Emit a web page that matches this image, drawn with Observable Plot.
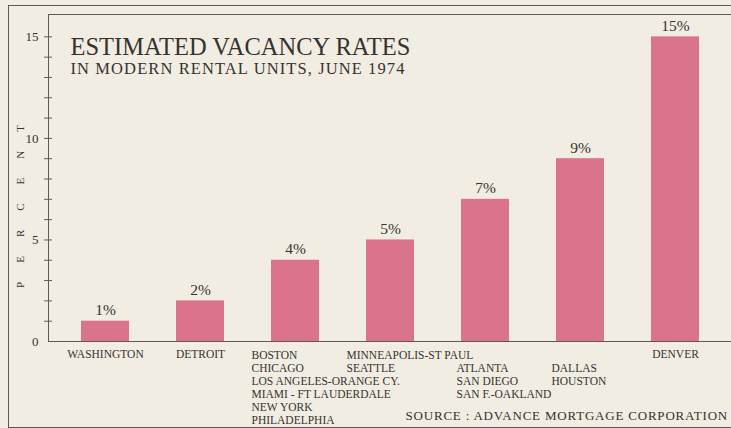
<!DOCTYPE html>
<html>
<head>
<meta charset="utf-8">
<script src="https://cdn.jsdelivr.net/npm/d3@7"></script>
<script src="https://cdn.jsdelivr.net/npm/@observablehq/plot@0.6"></script>
<style>
  html, body { margin: 0; padding: 0; background: #f1ede3; }
  svg { display: block; }
</style>
</head>
<body>
<div id="chart"></div>
<script>
const cities = [
  "WASHINGTON",
  "DETROIT",
  "BOSTON\nCHICAGO\nLOS ANGELES-ORANGE CY.\nMIAMI - FT LAUDERDALE\nNEW YORK\nPHILADELPHIA",
  "MINNEAPOLIS-ST PAUL\nSEATTLE",
  "ATLANTA\nSAN DIEGO\nSAN F.-OAKLAND",
  "DALLAS\nHOUSTON",
  "DENVER"
];
const rates = [1, 2, 4, 5, 7, 9, 15];
const yTickLabels = [0, 5, 10, 15];
const yTickMarks = [1, 2, 3, 4, 5, 6, 7, 8, 9, 10, 11, 12, 13, 14, 15];
const title = "ESTIMATED VACANCY RATES";
const subtitle = "IN MODERN RENTAL UNITS, JUNE 1974";
const yLabel = "PERCENT";
const source = "SOURCE : ADVANCE MORTGAGE CORPORATION";

const data = cities.map((c, i) => ({city: c, rate: rates[i], label: rates[i] + "%"}));
const centered = data.filter(d => !d.city.includes("\n"));
const leftWide = data.filter((d, i) => i === 2 || i === 3);
const leftNarrow = data.filter((d, i) => i === 4 || i === 5);

const font = "'Liberation Serif', 'DejaVu Serif', serif";
const ink = "#36322f";
const lineCol = "#5f5a55";

const chart = Plot.plot({
  width: 731,
  height: 428,
  marginLeft: 48,
  marginRight: 0,
  marginTop: 14,
  marginBottom: 87,
  style: {background: "#f1ede3", fontFamily: font, color: ink, overflow: "visible"},
  x: {domain: cities, range: [56, 724], paddingInner: 0.5, paddingOuter: 0.25, axis: null},
  y: {domain: [0, 16.1], axis: null},
  marks: [
    // outer border lines
    Plot.frame({anchor: "top", insetTop: -9, insetLeft: -40, stroke: lineCol}),
    Plot.frame({anchor: "left", insetLeft: -40, insetTop: -9, insetBottom: -86, stroke: lineCol}),
    Plot.frame({anchor: "bottom", insetBottom: -86, insetLeft: -40, stroke: lineCol}),
    // inner frame
    Plot.frame({anchor: "top", stroke: lineCol}),
    Plot.frame({anchor: "left", stroke: lineCol}),
    Plot.barY(data, {x: "city", y: "rate", fill: "#d9748a"}),
    Plot.frame({anchor: "bottom", stroke: lineCol}),
    Plot.axisY({ticks: yTickMarks, tickSize: 8, dx: 4, tickFormat: () => "", label: null, stroke: lineCol}),
    Plot.axisY({ticks: yTickLabels, tickSize: 0, tickPadding: 10, label: null, fontSize: 13, fill: ink}),
    Plot.text(data, {x: "city", y: "rate", text: "label", lineAnchor: "bottom", dy: -6, fontSize: 15.5, fill: ink}),
    Plot.text(centered, {x: "city", y: 0, text: "city", lineAnchor: "top", dy: 8, fontSize: 11.5, fill: ink, style: "letter-spacing:0.6px"}),
    Plot.text(leftWide, {x: "city", y: 0, text: "city", textAnchor: "start", dx: -44, lineAnchor: "top", dy: 8, lineHeight: 1.13, fontSize: 11.5, fill: ink}),
    Plot.text(leftNarrow, {x: "city", y: 0, text: "city", textAnchor: "start", dx: -29, lineAnchor: "top", dy: 21, lineHeight: 1.13, fontSize: 11.5, fill: ink}),
    Plot.text([title], {frameAnchor: "top-left", dx: 22, dy: 40, lineAnchor: "bottom", textAnchor: "start", fontSize: 24.5, fill: ink, text: d => d}),
    Plot.text([subtitle], {frameAnchor: "top-left", dx: 22, dy: 59, lineAnchor: "bottom", textAnchor: "start", fontSize: 16.5, fill: ink, text: d => d}),
    Plot.text([yLabel], {frameAnchor: "left", textAnchor: "middle", dx: -28, dy: 19, rotate: -90, fontSize: 11, fill: ink, text: d => d}),
    Plot.text([source], {frameAnchor: "bottom-left", dx: 357, dy: 78, lineAnchor: "bottom", textAnchor: "start", fontSize: 13, fill: ink, text: d => d})
  ]
});
chart.querySelectorAll("text").forEach(t => {
  if (t.textContent === yLabel) t.setAttribute("letter-spacing", "19px");
  if (t.textContent === subtitle) t.setAttribute("letter-spacing", "1.1px");
  if (t.textContent === source) t.setAttribute("letter-spacing", "0.8px");
});
document.getElementById("chart").appendChild(chart);
</script>
</body>
</html>
